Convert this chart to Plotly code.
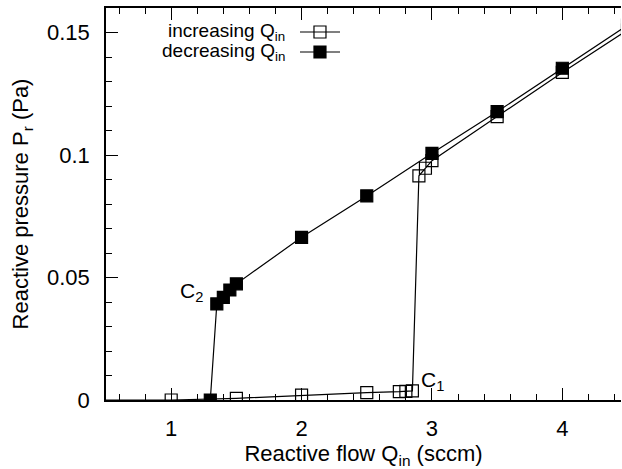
import plotly.graph_objects as go

# ---- data ----
q_inc = [0.0, 1.0, 1.5, 2.0, 2.5, 2.75, 2.8, 2.85, 2.9, 2.95, 3.0, 3.5, 4.0, 4.5]
p_inc = [0.0, 0.0, 0.0007, 0.002, 0.003, 0.0034, 0.0035, 0.0037, 0.0915, 0.0946, 0.0977, 0.1157, 0.1337, 0.151]

q_dec = [4.5, 4.0, 3.5, 3.0, 2.5, 2.0, 1.5, 1.45, 1.4, 1.35, 1.3]
p_dec = [0.153, 0.1354, 0.1177, 0.1007, 0.0833, 0.0664, 0.0474, 0.0449, 0.0419, 0.0392, 0.0]

series_names = ["increasing Q<sub>in</sub>", "decreasing Q<sub>in</sub>"]
x_ticks = [1, 2, 3, 4]
y_ticks = [0, 0.05, 0.1, 0.15]
y_ticktext = ["0", "0.05", "0.1", "0.15"]
point_labels = ["C<sub>1</sub>", "C<sub>2</sub>"]
point_label_xy = [(3.008, 0.0078), (1.155, 0.044)]

FONT = "Liberation Sans, Arial, Helvetica, sans-serif"
BLACK = "black"

fig = go.Figure()

fig.add_trace(go.Scatter(
    x=q_inc, y=p_inc, mode="lines+markers",
    line=dict(color=BLACK, width=1.2),
    marker=dict(symbol="square-open", size=12, color=BLACK, line=dict(width=1.2, color=BLACK)),
    showlegend=False,
))
fig.add_trace(go.Scatter(
    x=q_dec, y=p_dec, mode="lines+markers",
    line=dict(color=BLACK, width=1.2),
    marker=dict(symbol="square", size=12, color=BLACK, line=dict(width=1.2, color=BLACK)),
    showlegend=False,
))

# gnuplot-style key: text on the left, sample on the right (overlay axes in 0..1 units)
key_rows_y = [0.9388, 0.8878]
key_line_x = [0.3767, 0.4544]
key_mark_x = 0.4155
key_text_x = 0.3515
symbols = ["square-open", "square"]
for name, ky, sym in zip(series_names, key_rows_y, symbols):
    fig.add_trace(go.Scatter(
        x=key_line_x, y=[ky, ky], xaxis="x2", yaxis="y2", mode="lines",
        line=dict(color=BLACK, width=1.2), showlegend=False, hoverinfo="skip",
    ))
    fig.add_trace(go.Scatter(
        x=[key_mark_x], y=[ky], xaxis="x2", yaxis="y2", mode="markers",
        marker=dict(symbol=sym, size=12, color=BLACK, line=dict(width=1.2, color=BLACK)),
        showlegend=False, hoverinfo="skip",
    ))
    fig.add_annotation(
        x=key_text_x, y=ky, xref="x2", yref="y2", text=name,
        showarrow=False, xanchor="right", yanchor="middle",
        font=dict(family=FONT, size=19, color=BLACK),
    )

for txt, (ax, ay) in zip(point_labels, point_label_xy):
    fig.add_annotation(
        x=ax, y=ay, xref="x", yref="y", text=txt, showarrow=False,
        xanchor="center", yanchor="middle",
        font=dict(family=FONT, size=21, color=BLACK),
    )

fig.update_layout(
    width=622, height=469,
    margin=dict(l=106, r=1, t=8, b=69),
    paper_bgcolor="white", plot_bgcolor="white",
    font=dict(family=FONT, size=22, color=BLACK),
    xaxis=dict(
        range=[0.5, 4.45], tickvals=x_ticks, ticks="inside", ticklen=12, tickwidth=1.2,
        tickcolor=BLACK, showline=True, linecolor=BLACK, linewidth=1.5, mirror="ticks",
        showgrid=False, zeroline=False, ticklabelstandoff=8,
        minor=dict(dtick=0.2, tick0=0, ticks="inside", ticklen=6, tickwidth=1.2, tickcolor=BLACK),
        title=dict(text="Reactive flow Q<sub>in</sub> (sccm)", standoff=4, font=dict(size=22)),
        tickfont=dict(size=22),
    ),
    yaxis=dict(
        range=[0, 0.16], tickvals=y_ticks, ticktext=y_ticktext, ticks="inside", ticklen=12,
        tickwidth=1.2, tickcolor=BLACK, showline=True, linecolor=BLACK, linewidth=1.5,
        mirror=False, showgrid=False, zeroline=False, ticklabelstandoff=10,
        minor=dict(dtick=0.01, tick0=0, ticks="inside", ticklen=6, tickwidth=1.2, tickcolor=BLACK),
        title=dict(text="Reactive pressure P<sub>r</sub> (Pa)", standoff=12, font=dict(size=22)),
        tickfont=dict(size=22),
    ),
    xaxis2=dict(overlaying="x", range=[0, 1], visible=False, fixedrange=True),
    yaxis2=dict(overlaying="y", range=[0, 1], visible=False, fixedrange=True),
)

fig.write_html("out.html")
